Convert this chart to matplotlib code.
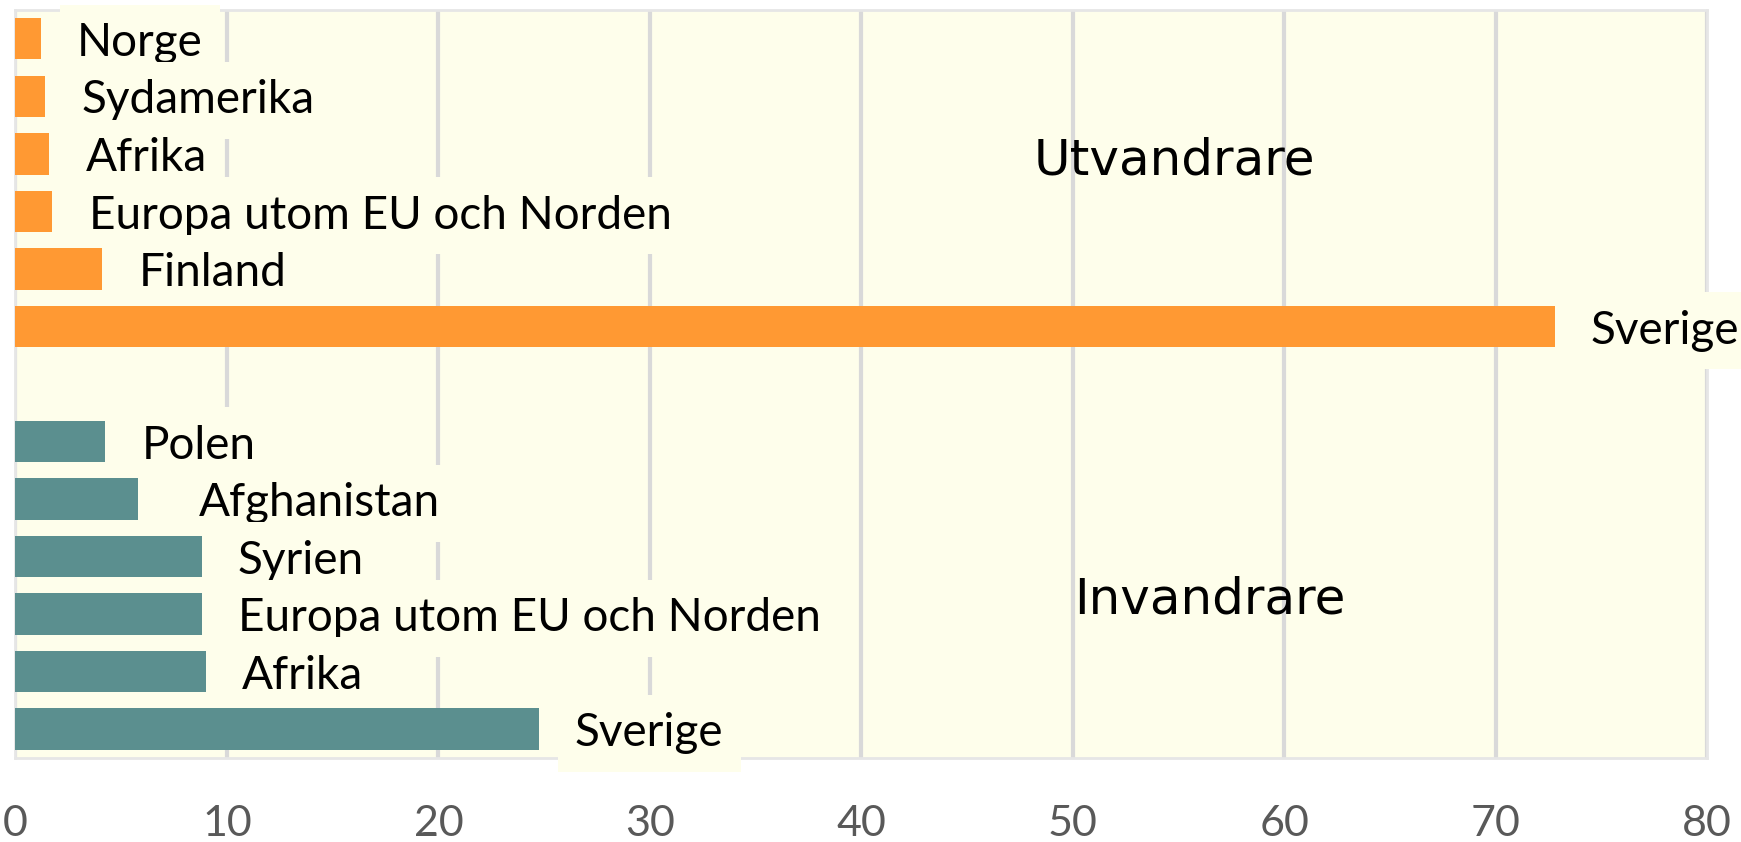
import matplotlib
matplotlib.use("Agg")
import matplotlib.pyplot as plt

# top-to-bottom order, one empty slot between the groups
ut_labels = ["Norge", "Sydamerika", "Afrika", "Europa utom EU och Norden", "Finland", "Sverige"]
ut_values = [1.2, 1.4, 1.6, 1.75, 4.1, 72.8]
in_labels = ["Polen", "Afghanistan", "Syrien", "Europa utom EU och Norden", "Afrika", "Sverige"]
in_values = [4.25, 5.8, 8.8, 8.8, 9.0, 24.75]
xticks = [0, 10, 20, 30, 40, 50, 60, 70, 80]

ORANGE = "#FF9933"
TEAL = "#5B8F8F"
BG = "#FEFEEB"
GRID = "#D9D9D9"

plt.rcParams["font.family"] = ["Lato", "DejaVu Sans"]

fig = plt.figure(figsize=(17.41, 8.42), dpi=100)
ax = fig.add_axes([0.0089, 0.0998, 0.9716, 0.8883])
ax.set_facecolor(BG)

ut_pos = list(range(len(ut_labels)))
in_pos = [len(ut_labels) + 1 + i for i in range(len(in_labels))]

# bars above the label boxes, boxes above the grid
ax.barh(ut_pos, ut_values, height=0.72, color=ORANGE, zorder=5)
ax.barh(in_pos, in_values, height=0.72, color=TEAL, zorder=5)

# extra label offsets (points) where the label sits further from its bar
extra = {("in", "Afghanistan"): 18}

def put_labels(pos, vals, labels, key):
    for y, v, lab in zip(pos, vals, labels):
        dx = 26 + extra.get((key, lab), 0)
        ax.annotate(lab, xy=(v, y), xytext=(dx, -3), textcoords="offset points",
                    ha="left", va="center", fontsize=33, color="black",
                    bbox=dict(boxstyle="square,pad=0.38", fc=BG, ec="none"),
                    zorder=4, annotation_clip=False)

put_labels(ut_pos, ut_values, ut_labels, "ut")
put_labels(in_pos, in_values, in_labels, "in")

ax.text(54.8, 2.12, "Utvandrare", fontsize=36, family="DejaVu Sans",
        ha="center", va="center", zorder=3)
ax.text(56.5, 9.75, "Invandrare", fontsize=36, family="DejaVu Sans",
        ha="center", va="center", zorder=3)

ax.set_xlim(0, 80)
ax.set_ylim(len(ut_labels) + len(in_labels) + 0.5, -0.5)
ax.set_xticks(xticks)
ax.set_yticks([])
ax.tick_params(axis="x", length=0, pad=34, labelsize=31, labelcolor="#595959")
ax.xaxis.grid(True, color=GRID, lw=3, zorder=1)
ax.set_axisbelow(True)
for s in ax.spines.values():
    s.set_color("#E6E6E6")
    s.set_linewidth(2)

fig.savefig("out.png", dpi=100, facecolor="white")
